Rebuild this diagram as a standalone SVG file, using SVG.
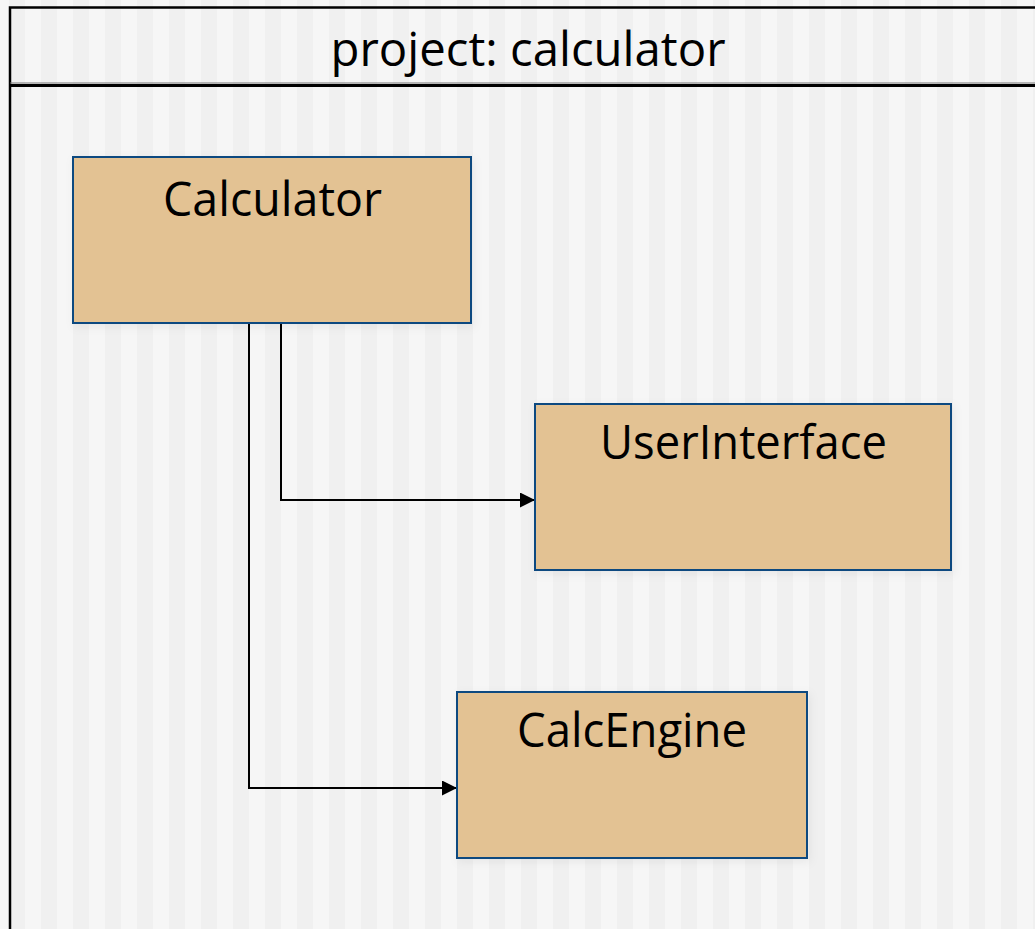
<svg xmlns="http://www.w3.org/2000/svg" width="1035" height="929" viewBox="0 0 1035 929">
  <style>
    .label { font-family: "Open Sans", "Noto Sans", "DejaVu Sans", sans-serif; font-size: 47px; fill: #000; text-anchor: middle; }
    .node rect { fill: #e3c293; stroke: #0a4a80; stroke-width: 2; filter: url(#shadow); }
    .edge { fill: none; stroke: #000; stroke-width: 2; }
  </style>
  <defs>
    <pattern id="stripes" x="9" y="0" width="32" height="929" patternUnits="userSpaceOnUse">
      <rect x="0" y="0" width="16" height="929" fill="#f0f0f0"/>
      <rect x="16" y="0" width="16" height="929" fill="#f6f6f6"/>
    </pattern>
    <filter id="shadow" x="-10%" y="-10%" width="120%" height="125%">
      <feDropShadow dx="2" dy="3" stdDeviation="5" flood-color="#000" flood-opacity="0.06"/>
    </filter>
    <marker id="arrow" viewBox="0 0 15 15" refX="15" refY="7.5" markerWidth="15" markerHeight="15" markerUnits="userSpaceOnUse" orient="auto">
      <path d="M0,0 L15,7.5 L0,15 Z" fill="#000"/>
    </marker>
  </defs>

  <!-- striped backdrop -->
  <rect x="0" y="0" width="1035" height="929" fill="url(#stripes)"/>

  <!-- project frame with title band -->
  <g id="frame">
    <rect x="10" y="7.5" width="1040" height="940" fill="none" stroke="#000" stroke-width="2.5"/>
    <line x1="10" y1="83" x2="1035" y2="83" stroke="#777" stroke-width="1"/>
    <line x1="10" y1="85.5" x2="1035" y2="85.5" stroke="#000" stroke-width="3"/>
    <text class="label" x="528" y="66" textLength="395" lengthAdjust="spacingAndGlyphs">project: calculator</text>
  </g>

  <!-- connectors -->
  <g id="connectors">
    <path class="edge" d="M281,323 V500 H535" marker-end="url(#arrow)"/>
    <path class="edge" d="M249,323 V788 H457" marker-end="url(#arrow)"/>
  </g>

  <g id="node-calculator" class="node">
    <rect x="73" y="157" width="398" height="166"/>
    <text class="label" x="272.5" y="216" textLength="219" lengthAdjust="spacingAndGlyphs">Calculator</text>
  </g>

  <g id="node-userinterface" class="node">
    <rect x="535" y="404" width="416" height="166"/>
    <text class="label" x="743.5" y="459" textLength="287" lengthAdjust="spacingAndGlyphs">UserInterface</text>
  </g>

  <g id="node-calcengine" class="node">
    <rect x="457" y="692" width="350" height="166"/>
    <text class="label" x="632" y="747" textLength="230" lengthAdjust="spacingAndGlyphs">CalcEngine</text>
  </g>
</svg>
